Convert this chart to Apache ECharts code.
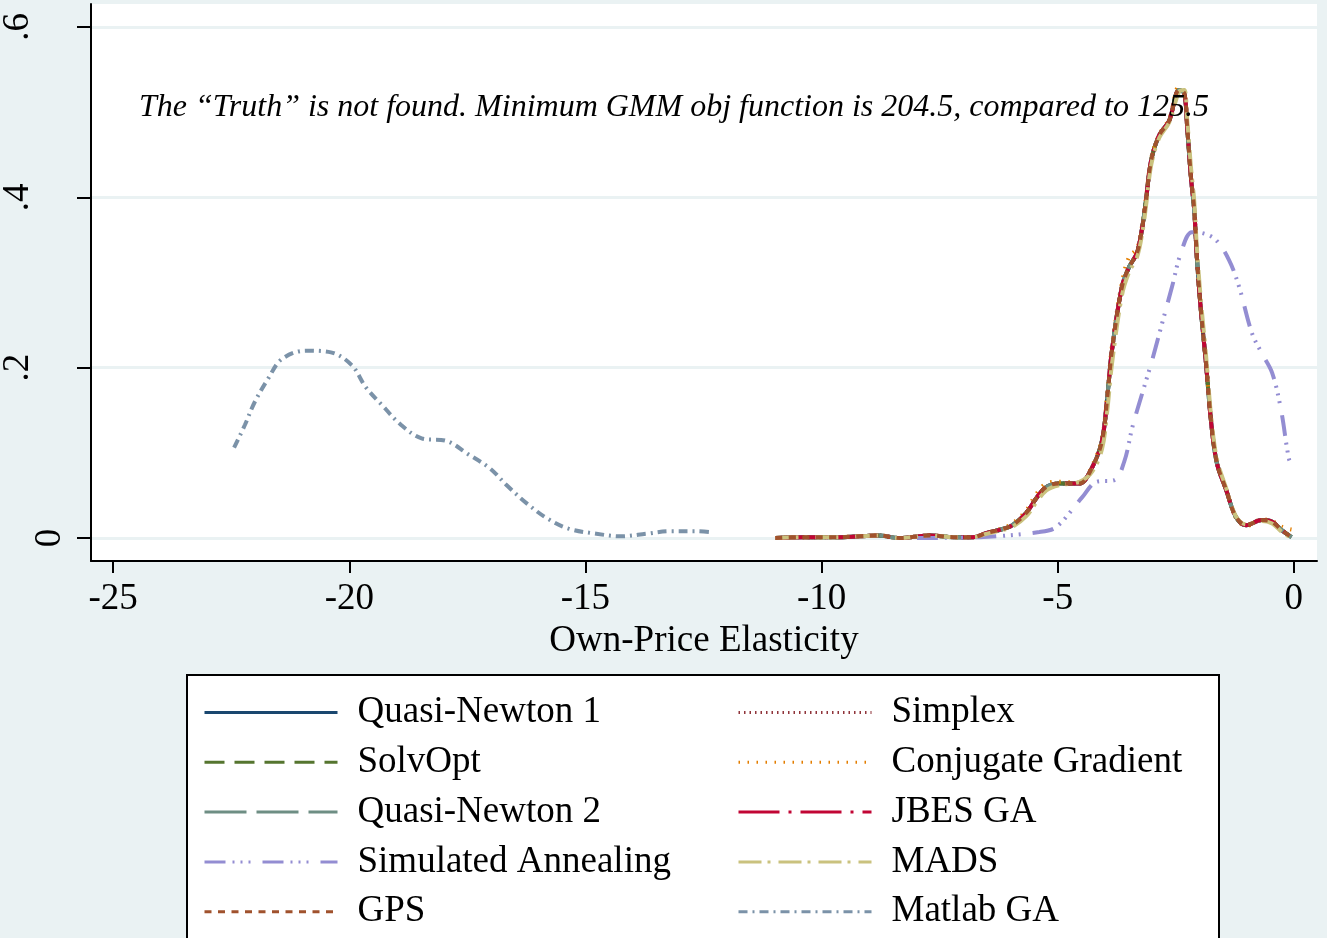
<!DOCTYPE html>
<html>
<head>
<meta charset="utf-8">
<script src="https://cdn.jsdelivr.net/npm/echarts@6/dist/echarts.min.js"></script>
<style>
html, body { margin: 0; padding: 0; background: #eaf2f3; }
#chart { width: 1327px; height: 938px; }
</style>
</head>
<body>
<div id="chart"></div>
<script>
// kernel densities
var mainX = [-10.98, -10.4, -9.7, -9.2, -8.8, -8.35, -7.7, -7.2, -6.8, -6.5, -6.2, -5.96, -5.66, -5.45, -5.24, -4.97, -4.54, -4.27, -4.06, -3.95, -3.85, -3.64, -3.49, -3.32, -3.21, -3.13, -3.02, -2.85, -2.64, -2.43, -2.32, -2.26, -2.18, -2.11, -2.05, -1.97, -1.86, -1.75, -1.63, -1.43, -1.23, -1.01, -0.68, -0.46, -0.25, -0.05];
var mainY = [0.000, 0.001, 0.001, 0.002, 0.003, 0.000, 0.003, 0.001, 0.001, 0.006, 0.010, 0.015, 0.030, 0.047, 0.060, 0.064, 0.064, 0.083, 0.115, 0.166, 0.221, 0.295, 0.318, 0.335, 0.365, 0.397, 0.444, 0.473, 0.490, 0.526, 0.522, 0.483, 0.424, 0.385, 0.326, 0.268, 0.205, 0.135, 0.088, 0.056, 0.025, 0.015, 0.021, 0.019, 0.009, 0.001];
var conjGradY = [0.000, 0.001, 0.001, 0.002, 0.003, 0.000, 0.003, 0.001, 0.001, 0.006, 0.011, 0.017, 0.033, 0.052, 0.064, 0.066, 0.065, 0.085, 0.118, 0.170, 0.226, 0.300, 0.330, 0.340, 0.368, 0.400, 0.446, 0.474, 0.492, 0.530, 0.524, 0.485, 0.426, 0.386, 0.328, 0.270, 0.207, 0.137, 0.090, 0.057, 0.024, 0.014, 0.022, 0.020, 0.013, 0.010];
var madsY = [0.000, 0.001, 0.001, 0.002, 0.003, 0.000, 0.003, 0.001, 0.001, 0.005, 0.009, 0.013, 0.026, 0.042, 0.056, 0.062, 0.066, 0.078, 0.105, 0.150, 0.205, 0.285, 0.312, 0.330, 0.358, 0.390, 0.438, 0.470, 0.488, 0.524, 0.526, 0.492, 0.436, 0.396, 0.338, 0.280, 0.215, 0.142, 0.093, 0.058, 0.026, 0.016, 0.020, 0.017, 0.007, 0.000];
var simAnnX = [-7.98, -6.66, -5.39, -5.03, -4.48, -4.18, -3.80, -3.59, -3.42, -3.21, -3.00, -2.79, -2.58, -2.39, -2.16, -1.94, -1.65, -1.37, -1.16, -0.89, -0.68, -0.46, -0.27, -0.10, -0.02];
var simAnnY = [0.000, 0.001, 0.007, 0.013, 0.048, 0.066, 0.068, 0.090, 0.130, 0.170, 0.209, 0.252, 0.295, 0.335, 0.359, 0.358, 0.350, 0.326, 0.295, 0.241, 0.217, 0.194, 0.150, 0.092, 0.085];
var matlabX = [-22.44, -22.21, -22.00, -21.72, -21.43, -20.92, -20.39, -19.95, -19.65, -19.29, -18.91, -18.47, -17.94, -17.50, -17.03, -16.65, -16.25, -15.81, -15.36, -14.77, -14.24, -13.71, -13.21, -12.66, -12.38];
var matlabY = [0.106, 0.133, 0.160, 0.187, 0.210, 0.220, 0.218, 0.203, 0.177, 0.155, 0.133, 0.117, 0.114, 0.099, 0.082, 0.061, 0.041, 0.023, 0.011, 0.005, 0.002, 0.005, 0.008, 0.008, 0.007];

var xTicks = [-25, -20, -15, -10, -5, 0];
var yTicks = [0, 0.2, 0.4, 0.6];
var yTickLabels = ['0', '.2', '.4', '.6'];

var legendLeft = ['Quasi-Newton 1', 'SolvOpt', 'Quasi-Newton 2', 'Simulated Annealing', 'GPS'];
var legendRight = ['Simplex', 'Conjugate Gradient', 'JBES GA', 'MADS', 'Matlab GA'];

var note = 'The \u201cTruth\u201d is not found. Minimum GMM obj function is 204.5, compared to 125.5';

var FONT = '"Liberation Serif", "Times New Roman", serif';

function pairs(xs, ys) {
    return xs.map(function (x, i) { return [x, ys[i]]; });
}

function line(name, xs, ys, color, dash) {
    return {
        name: name,
        type: 'line',
        data: pairs(xs, ys),
        symbol: 'none',
        smooth: 0.35,
        lineStyle: { color: color, width: 4, type: dash },
        itemStyle: { color: color },
        animation: false
    };
}

var myChart = echarts.init(document.getElementById('chart'));

function legendAt(left, names) {
    return {
        orient: 'vertical',
        left: left,
        top: 694,
        height: 260,
        z: 10,
        padding: 0,
        itemWidth: 133,
        itemHeight: 14,
        itemGap: 12.8,
        data: names,
        selectedMode: false,
        itemStyle: { opacity: 0 },
        lineStyle: { width: 3 },
        textStyle: {
            fontFamily: FONT,
            fontSize: 37,
            color: '#000',
            lineHeight: 36,
            padding: [0, 0, 0, 15]
        }
    };
}

var yLabelFont = { fontFamily: FONT, fontSize: 37, color: '#000' };

myChart.setOption({
    backgroundColor: '#eaf2f3',
    title: {
        text: note,
        left: 134,
        top: 87,
        textStyle: {
            fontFamily: FONT,
            fontStyle: 'italic',
            fontWeight: 'normal',
            fontSize: 32,
            color: '#000'
        }
    },
    grid: {
        left: 90,
        right: 10,
        top: 4,
        bottom: 377,
        show: true,
        backgroundColor: '#fff',
        borderWidth: 0
    },
    graphic: {
        elements: [{
            type: 'rect',
            z: -10,
            silent: true,
            shape: { x: 187, y: 675, width: 1032, height: 300 },
            style: { fill: '#fff', stroke: '#000', lineWidth: 2 }
        }]
    },
    legend: [
        legendAt(203, legendLeft),
        legendAt(737, legendRight)
    ],
    xAxis: {
        type: 'value',
        min: -25.47,
        max: 0.49,
        name: 'Own-Price Elasticity',
        nameLocation: 'middle',
        nameGap: 59,
        nameTextStyle: { fontFamily: FONT, fontSize: 37, color: '#000' },
        axisLine: { onZero: false, lineStyle: { color: '#000', width: 2 } },
        axisTick: { customValues: xTicks, length: 12, lineStyle: { color: '#000', width: 2 } },
        axisLabel: { customValues: xTicks, margin: 20, fontFamily: FONT, fontSize: 37, color: '#000' },
        splitLine: { show: false }
    },
    yAxis: {
        type: 'value',
        min: -0.027,
        max: 0.627,
        axisLine: { show: true, onZero: false, lineStyle: { color: '#000', width: 2 } },
        axisTick: { show: true, customValues: yTicks, length: 14, lineStyle: { color: '#000', width: 2 } },
        axisLabel: {
            customValues: yTicks,
            rotate: 90,
            margin: 22,
            fontFamily: FONT,
            fontSize: 37,
            color: '#000',
            rich: {
                zero: Object.assign({}, yLabelFont),
                dec: Object.assign({ padding: [0, 0, 32, 0] }, yLabelFont)
            },
            formatter: function (v) {
                var i = yTicks.indexOf(v);
                if (i < 0) return '';
                return i === 0 ? '{zero|' + yTickLabels[i] + '}' : '{dec|' + yTickLabels[i] + '}';
            }
        },
        splitLine: { show: true, lineStyle: { color: '#eaf2f3', width: 3 } }
    },
    series: [
        line('Quasi-Newton 1', mainX, mainY, '#1a476f', 'solid'),
        line('Simplex', mainX, mainY, '#90353b', [1.5, 4]),
        line('SolvOpt', mainX, mainY, '#55752f', [20, 10]),
        line('Conjugate Gradient', mainX, conjGradY, '#e37e00', [1.5, 7.5]),
        line('Quasi-Newton 2', mainX, mainY, '#6e8e84', [42, 10]),
        line('JBES GA', mainX, mainY, '#c10534', [41, 9, 3, 9]),
        line('Simulated Annealing', simAnnX, simAnnY, '#938dd2', [21, 7, 2, 6, 2, 6, 2, 12]),
        line('MADS', mainX, madsY, '#cac27e', [23, 6, 3, 8]),
        line('GPS', mainX, mainY, '#a0522d', [7, 6.5]),
        line('Matlab GA', matlabX, matlabY, '#7b92a8', [9, 5, 2, 5])
    ]
});
</script>
</body>
</html>
